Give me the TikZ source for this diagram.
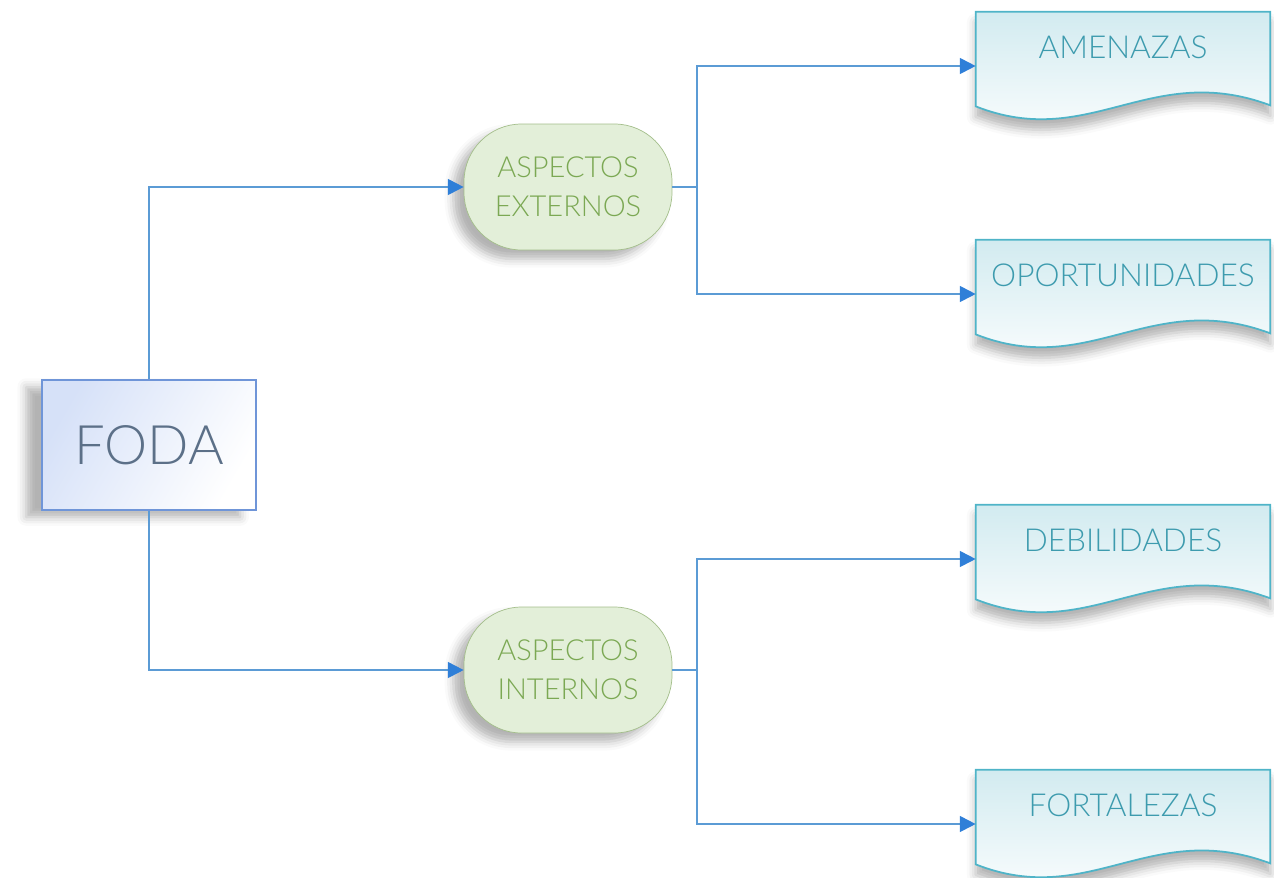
\documentclass[tikz,border=0pt]{standalone}
\usepackage{fontspec}
\setmainfont{Lato}[UprightFont=* Light]
\usetikzlibrary{positioning,arrows.meta,backgrounds,shadows.blur}

\definecolor{linkblue}{HTML}{5B9BD5}
\definecolor{tipblue}{HTML}{2F7FD8}
\definecolor{fodaline}{HTML}{6F95D8}
\definecolor{fodafill}{HTML}{D6E1F8}
\definecolor{fodatext}{HTML}{5C7088}
\definecolor{aspfill}{HTML}{E3EFD9}
\definecolor{aspline}{HTML}{A3BE8A}
\definecolor{asptext}{HTML}{7BA853}
\definecolor{docline}{HTML}{4FB4C8}
\definecolor{docfillc}{HTML}{D2EBF0}
\definecolor{doctext}{HTML}{3D9BAE}

\begin{document}
\begin{tikzpicture}[x=0.02cm,y=-0.02cm,
link/.style={
  draw=linkblue,
  line width=1.1pt,
  -{Triangle[length=9pt,width=9pt,color=tipblue]}},
fodabox/.style={
  draw=fodaline,
  line width=1pt,
  left color=fodafill,
  right color=white,
  shading angle=60,
  minimum width=4.28cm,
  minimum height=2.6cm,
  text=fodatext,
  font=\fontsize{31}{34}\selectfont,
  blur shadow={shadow xshift=-9pt,shadow yshift=-4pt,shadow opacity=30,shadow blur radius=5pt}},
aspbox/.style={
  draw=aspline,
  fill=aspfill,
  rounded corners=1.15cm,
  minimum width=4.16cm,
  minimum height=2.52cm,
  align=center,
  text=asptext,
  font=\fontsize{16.5}{22}\selectfont,
  blur shadow={shadow xshift=-6pt,shadow yshift=-5pt,shadow opacity=30,shadow blur radius=5pt}},
docbox/.style={
  minimum width=5.88cm,
  minimum height=1.32cm,
  inner sep=0pt,
  text=doctext,
  font=\fontsize{18}{20}\selectfont},
docfill/.style={
  draw=docline,
  line width=1pt,
  top color=docfillc,
  bottom color=white,
  blur shadow={shadow xshift=0pt,shadow yshift=-6pt,shadow opacity=30,shadow blur radius=5pt}}
]
\useasboundingbox (0,0) rectangle (1274,877);

\node[fodabox] (foda) at (149,445) {FODA};
\node[aspbox] (ext) at (568,187) {ASPECTOS\\EXTERNOS};
\node[aspbox] (int) at (568,670) {ASPECTOS\\INTERNOS};

\node[docbox] (amen) at (1123,47) {AMENAZAS};
\node[docbox] (opor) at (1123,275) {OPORTUNIDADES};
\node[docbox] (debi) at (1123,540) {DEBILIDADES};
\node[docbox] (fort) at (1123,805) {FORTALEZAS};

% wavy document outlines behind the labels
\begin{pgfonlayer}{background}
\foreach \Doc in {amen,opor,debi,fort}
  \path[docfill] ([yshift=0.04cm]\Doc.north west) -- ([yshift=0.04cm]\Doc.north east)
    -- ([yshift=-0.5cm]\Doc.south east)
    .. controls +(-120,-45) and +(114,45) ..
    ([yshift=-0.52cm]\Doc.south west) -- cycle;
\end{pgfonlayer}

\draw[link] (foda.north) |- (ext.west);
\draw[link] (foda.south) |- (int.west);

\draw[draw=linkblue,line width=1.1pt] (ext.east) -- ++(25,0) coordinate (ej);
\draw[draw=linkblue,line width=1.1pt] (int.east) -- ++(25,0) coordinate (ij);
\draw[link] (ej) |- ([yshift=-0.38cm]amen.west);
\draw[link] (ej) |- ([yshift=-0.38cm]opor.west);
\draw[link] (ij) |- ([yshift=-0.38cm]debi.west);
\draw[link] (ij) |- ([yshift=-0.38cm]fort.west);
\end{tikzpicture}
\end{document}
